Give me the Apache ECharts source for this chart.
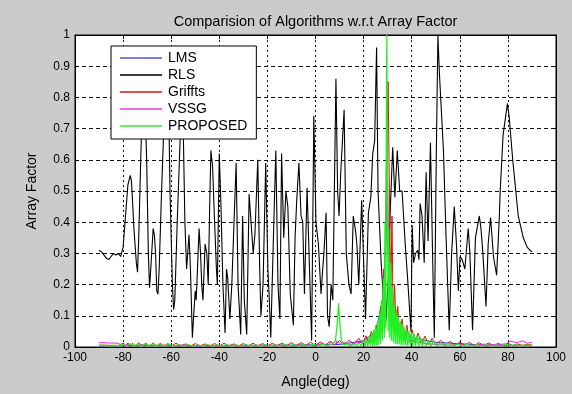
<!DOCTYPE html>
<html>
<head>
<meta charset="utf-8">
<script src="https://cdn.jsdelivr.net/npm/echarts@6/dist/echarts.min.js"></script>
<style>
  html, body { margin: 0; padding: 0; background: #cbcbcb; }
  #chart { width: 572px; height: 394px; }
</style>
</head>
<body>
<div id="chart"></div>
<script>
// angle (deg) vs array factor
const rlsData = [
  [-90,0.31],[-89,0.305],[-88,0.295],[-87,0.285],[-86,0.28],[-85.5,0.283],[-85,0.29],[-84,0.30],[-83,0.295],[-82,0.30],
  [-81,0.29],[-80.5,0.29],[-80,0.32],[-79,0.42],[-78,0.52],[-77,0.55],[-76.5,0.53],[-75.5,0.38],[-74.5,0.27],[-74,0.24],
  [-73.5,0.35],[-72.5,0.65],[-71.5,0.86],[-71,0.8],[-70.2,0.6],[-69.5,0.3],[-69,0.19],[-68.5,0.25],[-67.5,0.38],[-67,0.36],
  [-66.5,0.3],[-66,0.18],[-65.5,0.17],[-65,0.25],[-64,0.5],[-63,0.72],[-61.8,0.89],[-61,0.75],[-60.5,0.5],[-59.5,0.2],
  [-59,0.12],[-58.5,0.15],[-57.5,0.4],[-56.5,0.62],[-55.5,0.83],[-55,0.7],[-54.3,0.4],[-53.6,0.25],[-52.6,0.36],[-52,0.25],
  [-51.2,0.03],[-50.5,0.12],[-50,0.18],[-49.6,0.15],[-48.4,0.38],[-47.8,0.3],[-47.3,0.2],[-46.8,0.15],[-45.9,0.33],[-45.2,0.3],
  [-44.6,0.2],[-44,0.45],[-43.5,0.63],[-42.8,0.58],[-42.2,0.45],[-41.2,0.25],[-40.8,0.2],[-40,0.62],[-39.3,0.45],[-38.5,0.2],
  [-37.6,0.045],[-37,0.25],[-36.5,0.22],[-35.6,0.09],[-34.8,0.2],[-33,0.59],[-32.2,0.2],[-31.1,0.04],[-30.3,0.42],[-29.6,0.15],
  [-28.6,0.04],[-27.6,0.49],[-26.8,0.4],[-25.9,0.3],[-25.2,0.36],[-24,0.6],[-23.2,0.25],[-22.7,0.1],[-21.8,0.2],[-20.7,0.59],
  [-19.8,0.25],[-19.2,0.15],[-18.6,0.03],[-17.5,0.35],[-16.5,0.63],[-15.6,0.2],[-14.8,0.09],[-14.1,0.62],[-13.2,0.35],[-12.3,0.5],
  [-11.5,0.45],[-10.5,0.17],[-9.2,0.07],[-8.5,0.35],[-7.8,0.47],[-6.9,0.59],[-6,0.42],[-5.3,0.4],[-4.6,0.17],[-3.5,0.51],
  [-2.8,0.33],[-1.6,0.02],[-0.7,0.74],[0.2,0.4],[1.2,0.33],[2.3,0.17],[3,0.25],[3.5,0.3],[4.4,0.43],[5,0.1],
  [5.7,0.065],[6.5,0.2],[7.2,0.15],[8.5,0.86],[9.2,0.5],[9.8,0.42],[10.5,0.56],[11.9,0.76],[12.8,0.3],[13.9,0.2],
  [14.8,0.17],[15.7,0.42],[16.7,0.37],[17.2,0.33],[18,0.2],[19.2,0.47],[20,0.28],[20.8,0.09],[22,0.43],[23,0.48],
  [23.8,0.62],[24.6,0.66],[25.4,0.96],[26,0.5],[27.3,0.27],[28.3,0.15],[29.2,0.08],[30.5,0.25],[31,0.42],[32.1,0.64],
  [33,0.48],[34,0.63],[35,0.5],[36,0.5],[37.3,0.33],[38.3,0.22],[39.7,0.05],[40.2,0.39],[40.8,0.27],[41.6,0.3],
  [42.5,0.31],[43,0.28],[43.5,0.46],[44.3,0.42],[45.2,0.27],[46,0.56],[46.8,0.34],[47.8,0.655],[48.8,0.25],[49.4,0.03],
  [50.2,0.6],[50.9,1.0],[51.5,0.88],[53.2,0.63],[54.3,0.35],[55.6,0.054],[56.6,0.3],[57.7,0.45],[58.6,0.33],[59.4,0.18],
  [60.1,0.29],[61,0.28],[62.1,0.25],[63.5,0.38],[64.2,0.3],[65.3,0.054],[66.5,0.35],[68.1,0.42],[68.8,0.38],[69.6,0.3],
  [70.9,0.13],[71.8,0.33],[72.8,0.415],[74,0.29],[75.3,0.23],[76.4,0.41],[76.8,0.5],[78,0.68],[79.8,0.78],[80.5,0.74],
  [82,0.6],[84.3,0.42],[86.4,0.35],[88,0.32],[89.2,0.31],[90,0.305]
];

const lmsData = [
  [-90,0.004],[-70,0.005],[-50,0.004],[-30,0.005],[-10,0.006],[10,0.008],[20,0.02],[25,0.05],[28,0.15],[29.3,0.35],
  [29.8,0.66],[30.3,0.3],[31.5,0.12],[34,0.06],[40,0.03],[50,0.015],[70,0.006],[90,0.005]
];

const grifftsData = [
  [-90,0.006],[-82,0.005],[-80,0.012],[-79,0.002],[-78,0.013],[-77,0.003],[-76,0.012],[-74.8,0.002],[-73.5,0.014],[-72,0.003],
  [-70.5,0.012],[-69,0.002],[-67.5,0.013],[-66,0.003],[-64.5,0.012],[-63,0.002],[-61.5,0.011],[-60,0.003],[-58,0.012],[-56,0.003],
  [-54,0.01],[-52,0.002],[-50,0.011],[-48,0.003],[-46,0.01],[-44,0.002],[-42,0.011],[-40,0.003],[-38,0.012],[-36,0.003],
  [-34,0.01],[-32,0.003],[-30,0.011],[-28,0.003],[-26,0.012],[-24,0.003],[-22,0.011],[-20,0.003],[-18,0.012],[-16,0.004],
  [-14,0.012],[-12,0.004],[-10,0.014],[-8,0.004],[-6,0.014],[-4,0.005],[-2,0.015],[0,0.005],[2,0.016],[4,0.006],
  [6,0.018],[8,0.006],[10,0.02],[12,0.007],[14,0.022],[16,0.008],[18,0.028],[19.5,0.01],[21,0.036],[22.2,0.012],
  [23.2,0.05],[24.2,0.015],[25.2,0.07],[26.2,0.02],[27,0.13],[27.8,0.05],[28.4,0.25],[29,0.1],[29.5,0.6],[30.2,0.85],
  [30.8,0.45],[31.3,0.15],[31.8,0.42],[32.3,0.08],[32.9,0.2],[33.5,0.05],[34.2,0.13],[35,0.03],[36,0.09],[37,0.02],
  [38,0.07],[39,0.015],[40.2,0.055],[41.4,0.012],[42.6,0.045],[44,0.01],[45.5,0.035],[47,0.008],[48.5,0.028],[50,0.007],
  [52,0.022],[54,0.006],[56,0.018],[58,0.005],[60,0.016],[62,0.005],[64,0.015],[66,0.004],[68,0.014],[70,0.004],
  [72,0.013],[74,0.004],[76,0.012],[78,0.003],[80,0.012],[82,0.004],[84,0.01],[86,0.005],[88,0.008],[90,0.006]
];

const vssgData = [
  [-90,0.014],[-86,0.013],[-82,0.012],[-80.5,0.005],[-78,0.008],[-75,0.004],[-72,0.008],[-68,0.004],[-64,0.007],[-60,0.003],
  [-55,0.007],[-50,0.003],[-45,0.006],[-40,0.003],[-35,0.006],[-30,0.003],[-25,0.006],[-20,0.003],[-15,0.006],[-10,0.004],
  [-5,0.007],[0,0.005],[3,0.012],[5,0.004],[6.5,0.018],[8,0.006],[9,0.02],[10.5,0.008],[12,0.016],[14,0.006],
  [17,0.014],[20,0.015],[23,0.025],[26,0.05],[28,0.12],[29.2,0.35],[29.7,0.72],[30.2,0.3],[31.5,0.1],[33,0.05],
  [36,0.03],[40,0.02],[45,0.012],[50,0.008],[55,0.006],[60,0.008],[65,0.006],[70,0.009],[75,0.007],[79,0.01],
  [81,0.018],[84,0.014],[86,0.02],[88,0.012],[90,0.015]
];

const proposedData = [
  [-90,0.004],[-88,0.006],[-86,0.003],[-84,0.005],[-82,0.004],[-80,0.008],[-78.5,0.003],[-77,0.01],[-75.5,0.003],[-74,0.009],
  [-72.5,0.002],[-71,0.01],[-69.5,0.003],[-68,0.009],[-66.5,0.002],[-65,0.008],[-63,0.003],[-61,0.009],[-59,0.002],[-57,0.008],
  [-55,0.003],[-53,0.008],[-51,0.002],[-49,0.007],[-47,0.003],[-45,0.008],[-43,0.002],[-41,0.007],[-39,0.003],[-37,0.008],
  [-35,0.002],[-33,0.007],[-31,0.003],[-29,0.008],[-27,0.002],[-25,0.007],[-23,0.003],[-21,0.008],[-19,0.002],[-17,0.007],
  [-15,0.003],[-13,0.008],[-11,0.003],[-9,0.008],[-7,0.003],[-5,0.008],[-3,0.003],[-1,0.009],[1,0.003],[3,0.009],
  [5,0.004],[7,0.01],[8.3,0.02],[9,0.07],[9.6,0.14],[10.1,0.08],[10.7,0.025],[11.5,0.006],[13,0.01],[14.5,0.004],
  [16,0.009],[17,0.004],[18,0.013],[19,0.004],[20,0.02],[20.6,0.004],[21.2,0.025],[21.8,0.003],[22.4,0.035],[23,0.004],
  [23.4,0.045],[23.8,0.003],[24.2,0.055],[24.6,0.004],[25,0.065],[25.4,0.005],[25.8,0.08],[26.2,0.006],[26.6,0.11],[27,0.01],
  [27.4,0.15],[27.8,0.02],[28.2,0.22],[28.6,0.03],[28.9,0.4],[29.2,0.06],[29.45,0.7],[29.65,1.0],[29.9,0.6],[30.2,0.05],
  [30.5,0.38],[30.9,0.03],[31.2,0.27],[31.6,0.02],[32,0.19],[32.4,0.015],[32.8,0.14],[33.2,0.01],[33.6,0.12],[34,0.01],
  [34.4,0.1],[34.8,0.008],[35.2,0.085],[35.6,0.006],[36,0.075],[36.4,0.005],[36.8,0.065],[37.3,0.005],[37.8,0.058],[38.3,0.004],
  [38.8,0.052],[39.3,0.004],[39.8,0.047],[40.4,0.003],[41,0.042],[41.6,0.003],[42.2,0.037],[42.9,0.003],[43.6,0.032],[44.4,0.003],
  [45.2,0.027],[46,0.003],[47,0.022],[48,0.003],[49,0.018],[50.5,0.003],[52,0.014],[53.5,0.003],[55,0.012],[57,0.003],
  [59,0.01],[61,0.003],[63,0.009],[65,0.003],[67,0.008],[69,0.003],[71,0.008],[73,0.003],[75,0.007],[77,0.003],
  [79,0.008],[81,0.004],[83,0.007],[85,0.004],[87,0.006],[90,0.005]
];

const xTicks = [-100, -80, -60, -40, -20, 0, 20, 40, 60, 80, 100];
const yTicks = [0, 0.1, 0.2, 0.3, 0.4, 0.5, 0.6, 0.7, 0.8, 0.9, 1];

const FONT = '"Liberation Sans", Arial, sans-serif';
const chart = echarts.init(document.getElementById('chart'), null, { renderer: 'canvas' });

const tickLabel = { color: '#000', fontFamily: FONT, fontSize: 12 };
const inTick = { show: true, inside: true, length: 4, lineStyle: { color: '#000' } };
const boxLine = { show: true, onZero: false, lineStyle: { color: '#000' } };

chart.setOption({
  animation: false,
  backgroundColor: '#cbcbcb',
  title: {
    text: 'Comparision of Algorithms w.r.t Array Factor',
    left: 315.5, top: 14, textAlign: 'center', padding: 0,
    textStyle: { fontFamily: FONT, fontSize: 14.5, fontWeight: 'normal', color: '#000' },
  },
  grid: { left: 75, right: 16, top: 35, bottom: 40, containLabel: false, show: true,
    backgroundColor: '#fff', borderColor: '#000', borderWidth: 1 },
  legend: {
    orient: 'vertical', left: 111, top: 46,
    backgroundColor: '#fff', borderColor: '#000', borderWidth: 1,
    padding: [5, 9, 6, 9], icon: 'rect', itemWidth: 42, itemHeight: 1.3, itemGap: 3,
    textStyle: { fontFamily: FONT, fontSize: 14, color: '#000', padding: [0, 0, 0, 1] },
    data: ['LMS', 'RLS', 'Griffts', 'VSSG', 'PROPOSED'],
  },
  xAxis: [
    {
      type: 'value', min: -100, max: 100, interval: 20,
      name: 'Angle(deg)', nameLocation: 'middle', nameGap: 28,
      nameTextStyle: { fontFamily: FONT, fontSize: 14, color: '#000' },
      axisLine: boxLine,
      axisTick: inTick,
      axisLabel: { ...tickLabel, margin: 5, formatter: v => xTicks.includes(v) ? String(v) : '' },
      splitLine: { show: true, lineStyle: { color: '#111', width: 1, type: [2, 3] } },
    },
    {
      type: 'value', min: -100, max: 100, interval: 20, position: 'top',
      axisLine: boxLine,
      axisTick: inTick, axisLabel: { show: false }, splitLine: { show: false },
    },
  ],
  yAxis: [
    {
      type: 'value', min: 0, max: 1, interval: 0.1,
      name: 'Array Factor', nameLocation: 'middle', nameGap: 36,
      nameTextStyle: { fontFamily: FONT, fontSize: 14, color: '#000' },
      axisLine: boxLine,
      axisTick: inTick,
      axisLabel: { ...tickLabel, margin: 5, formatter: v => {
        const t = yTicks.find(k => Math.abs(k - v) < 1e-9);
        return t === undefined ? '' : String(t);
      } },
      splitLine: { show: true, lineStyle: { color: '#111', width: 1, type: [4, 3] } },
    },
    {
      type: 'value', min: 0, max: 1, interval: 0.1, position: 'right',
      axisLine: boxLine,
      axisTick: inTick, axisLabel: { show: false }, splitLine: { show: false },
    },
  ],
  series: [
    { name: 'LMS', type: 'line', data: lmsData, symbol: 'none', lineStyle: { color: '#2b2bff', width: 1 }, itemStyle: { color: '#5050d8' } },
    { name: 'RLS', type: 'line', data: rlsData, symbol: 'none', lineStyle: { color: '#000', width: 1.1 }, itemStyle: { color: '#000' } },
    { name: 'Griffts', type: 'line', data: grifftsData, symbol: 'none', lineStyle: { color: '#e01010', width: 1 }, itemStyle: { color: '#c81818' } },
    { name: 'VSSG', type: 'line', data: vssgData, symbol: 'none', lineStyle: { color: '#f020f0', width: 1 }, itemStyle: { color: '#e040e0' } },
    { name: 'PROPOSED', type: 'line', data: proposedData, symbol: 'none', lineStyle: { color: '#22f022', width: 1.3 }, itemStyle: { color: '#40e040' } },
  ],
});
</script>
</body>
</html>
